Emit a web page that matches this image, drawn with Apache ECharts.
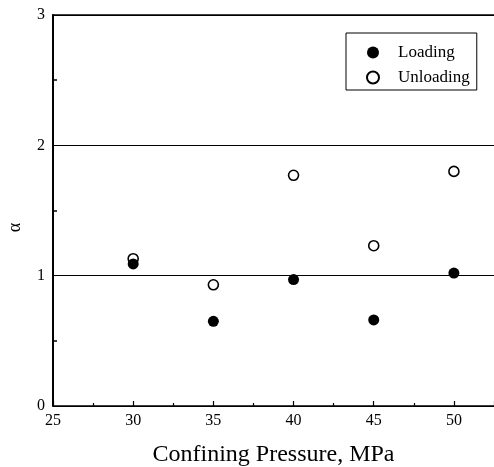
<!DOCTYPE html>
<html>
<head>
<meta charset="utf-8">
<script src="https://cdn.jsdelivr.net/npm/echarts@6/dist/echarts.min.js"></script>
<style>
  html, body { margin: 0; padding: 0; background: #fff; }
  #chart { width: 494px; height: 467px; }
</style>
</head>
<body>
<div id="chart"></div>
<script>
// confining pressure, MPa
var pressures = [30, 35, 40, 45, 50];
// alpha values
var loading = [1.09, 0.65, 0.97, 0.66, 1.02];
var unloading = [1.13, 0.93, 1.77, 1.23, 1.80];

var serif = "'Liberation Serif', 'DejaVu Serif', serif";

function pairs(xs, ys) {
    return xs.map(function (x, i) { return [x, ys[i]]; });
}

var myChart = echarts.init(document.getElementById("chart"));

var option = {
    animation: false,
    grid: {
        left: 53,
        right: 0,
        top: 15,
        bottom: 61,
        outerBoundsMode: "none"
    },
    legend: {
        orient: "vertical",
        left: 346,
        top: 33,
        borderColor: "#000",
        borderWidth: 1,
        padding: [11, 7, 4, 20],
        itemGap: 8,
        itemWidth: 12,
        itemHeight: 12,
        textStyle: {
            fontFamily: serif,
            fontSize: 17,
            color: "#000",
            padding: [0, 0, 0, 14]
        },
        data: ["Loading", "Unloading"]
    },
    xAxis: [
        {
            type: "value",
            min: 25,
            max: 52.5,
            interval: 5,
            name: "Confining Pressure, MPa",
            nameLocation: "middle",
            nameGap: 37,
            nameTextStyle: { fontFamily: serif, fontSize: 24, color: "#000" },
            axisLine: { show: true, lineStyle: { color: "#000", width: 1.5 } },
            axisTick: { show: true, inside: true, length: 5, lineStyle: { color: "#000", width: 1.2 } },
            minorTick: { show: true, splitNumber: 2, length: 3, lineStyle: { color: "#000", width: 1.2 } },
            axisLabel: {
                fontFamily: serif,
                fontSize: 16,
                color: "#000",
                margin: 7,
                formatter: function (v) { return v <= 50 ? String(v) : ""; }
            },
            splitLine: { show: false }
        },
        {
            type: "value",
            position: "top",
            min: 25,
            max: 52.5,
            axisLine: { show: true, lineStyle: { color: "#000", width: 1.6 } },
            axisTick: { show: false },
            axisLabel: { show: false },
            splitLine: { show: false }
        }
    ],
    yAxis: {
        type: "value",
        min: 0,
        max: 3,
        interval: 1,
        name: "α",
        nameLocation: "middle",
        nameGap: 29,
        nameRotate: 90,
        nameTextStyle: { fontFamily: serif, fontSize: 18, color: "#000", padding: [0, 34, 0, 0] },
        axisLine: { show: true, lineStyle: { color: "#000", width: 2 } },
        axisTick: { show: true, inside: true, length: 0 },
        minorTick: { show: true, splitNumber: 2, length: 4, lineStyle: { color: "#000", width: 1.5 } },
        axisLabel: {
            fontFamily: serif,
            fontSize: 16,
            color: "#000",
            margin: 8
        },
        splitLine: { show: true, lineStyle: { color: "#000", width: 1.2 } }
    },
    series: [
        {
            name: "Loading",
            type: "scatter",
            z: 3,
            symbol: "circle",
            symbolSize: 11,
            itemStyle: { color: "#000", opacity: 1 },
            data: pairs(pressures, loading)
        },
        {
            name: "Unloading",
            type: "scatter",
            z: 2,
            symbol: "circle",
            symbolSize: 10,
            itemStyle: { color: "#fff", borderColor: "#000", borderWidth: 1.6, opacity: 1 },
            data: pairs(pressures, unloading)
        }
    ]
};

myChart.setOption(option);
</script>
</body>
</html>
